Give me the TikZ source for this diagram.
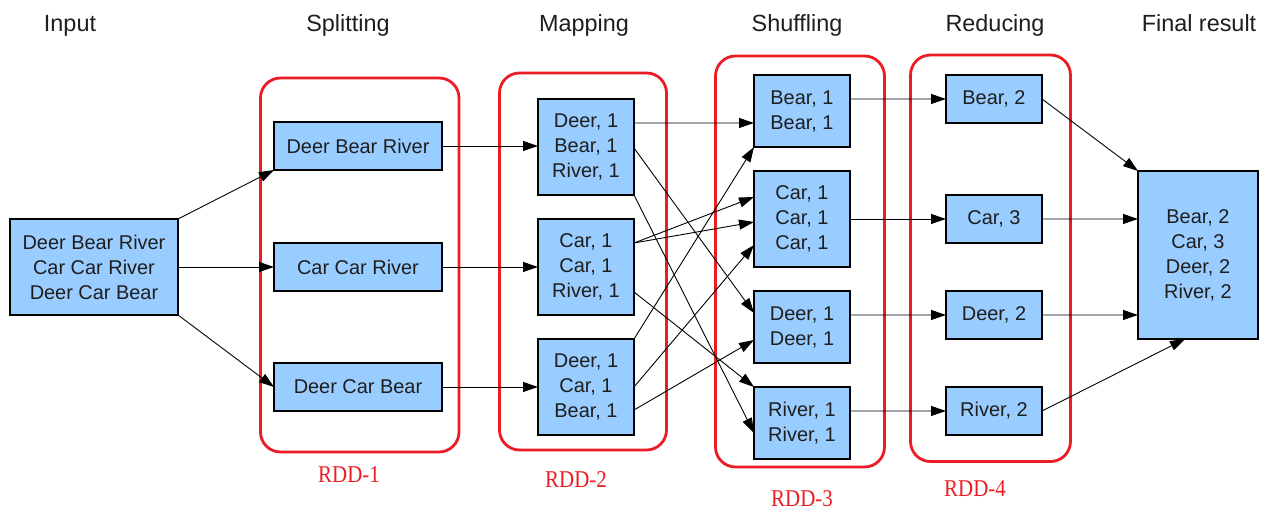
\documentclass[tikz,border=0pt]{standalone}
\usepackage{fontspec}
\setmainfont{Liberation Sans}
\newfontfamily\rddfont{Liberation Serif}
\usetikzlibrary{arrows.meta,calc}
\definecolor{boxblue}{HTML}{99CCFF}
\definecolor{rddred}{HTML}{EC1C24}
\definecolor{txt}{HTML}{1E1E1E}
\tikzset{
  box/.style={draw=black, line width=1.2bp, fill=boxblue, inner sep=0pt, outer sep=0pt,
    align=center, text=txt, font=\fontsize{20}{25}\selectfont},
  hdr/.style={anchor=base, text=txt, font=\fontsize{23.5}{28}\selectfont, inner sep=0pt},
  rdd/.style={draw=rddred, line width=2.8bp, rounded corners=20bp},
  rddlbl/.style={text=rddred, inner sep=0pt, font=\rddfont\fontsize{21}{24}\selectfont},
  conn/.style={draw=black, line width=0.9bp, -{Triangle[length=15bp,width=10bp]}},
}
\begin{document}
\begin{tikzpicture}[x=1bp,y=-1bp]
\useasboundingbox (0,0) rectangle (1285,513);
% headers
\node[hdr] (hIn) at (70,32) {Input};
\node[hdr] (hSp) at (348,32) {Splitting};
\node[hdr] (hMa) at (584,32) {Mapping};
\node[hdr] (hSh) at (797,32) {Shuffling};
\node[hdr] (hRe) at (995,32) {Reducing};
\node[hdr] (hFi) at (1199,32) {Final result};
% RDD frames
\draw[rdd] (260.5,78) rectangle (459,452);
\draw[rdd] (499.5,73) rectangle (666.5,450);
\draw[rdd] (715.5,56) rectangle (884.5,467);
\draw[rdd] (910.5,55) rectangle (1070.5,461.5);
\node[rddlbl] (r1) at (349,475) {\scalebox{1}[1.15]{RDD-1}};
\node[rddlbl] (r2) at (576,480) {\scalebox{1}[1.15]{RDD-2}};
\node[rddlbl] (r3) at (802,499) {\scalebox{1}[1.15]{RDD-3}};
\node[rddlbl] (r4) at (975,489) {\scalebox{1}[1.15]{RDD-4}};
% input
\node[box, minimum width=168bp, minimum height=96bp] (in) at (94,267) {Deer Bear River\\Car Car River\\Deer Car Bear};
% splitting
\node[box, minimum width=168bp, minimum height=48bp] (sp1) at (358,146) {Deer Bear River};
\node[box, minimum width=168bp, minimum height=48bp] (sp2) at (358,267) {Car Car River};
\node[box, minimum width=168bp, minimum height=48bp] (sp3) at (358,387) {Deer Car Bear};
% mapping
\node[box, minimum width=96bp, minimum height=96bp] (ma1) at (586,147) {Deer, 1\\Bear, 1\\River, 1};
\node[box, minimum width=96bp, minimum height=96bp] (ma2) at (586,267) {Car, 1\\Car, 1\\River, 1};
\node[box, minimum width=96bp, minimum height=96bp] (ma3) at (586,387) {Deer, 1\\Car, 1\\Bear, 1};
% shuffling
\node[box, minimum width=96bp, minimum height=72bp] (sh1) at (802,111) {Bear, 1\\Bear, 1};
\node[box, minimum width=96bp, minimum height=96bp] (sh2) at (802,219) {Car, 1\\Car, 1\\Car, 1};
\node[box, minimum width=96bp, minimum height=72bp] (sh3) at (802,327) {Deer, 1\\Deer, 1};
\node[box, minimum width=96bp, minimum height=72bp] (sh4) at (802,423) {River, 1\\River, 1};
% reducing
\node[box, minimum width=96bp, minimum height=48bp] (re1) at (994,99) {Bear, 2};
\node[box, minimum width=96bp, minimum height=48bp] (re2) at (994,219) {Car, 3};
\node[box, minimum width=96bp, minimum height=48bp] (re3) at (994,315) {Deer, 2};
\node[box, minimum width=96bp, minimum height=48bp] (re4) at (994,411) {River, 2};
% final
\node[box, minimum width=120bp, minimum height=168bp] (fin) at (1198,255) {Bear, 2\\Car, 3\\Deer, 2\\River, 2};
% input -> splitting
\draw[conn] (in.north east) -- (sp1.south west);
\draw[conn] (in.east) -- (sp2.west);
\draw[conn] (in.south east) -- (sp3.west);
% splitting -> mapping
\draw[conn] (sp1.east) -- (sp1.east -| ma1.west);
\draw[conn] (sp2.east) -- (ma2.west);
\draw[conn] (sp3.east) -- (ma3.west);
% mapping -> shuffling
\draw[conn] ($(ma1.north east)+(0,24)$) -- ($(sh1.north west)+(0,48)$);
\draw[conn] ($(ma1.north east)+(0,49)$) -- ($(sh3.north west)+(0,22)$);
\draw[conn] (ma1.south east) -- ($(sh4.north west)+(0,46)$);
\draw[conn] ($(ma2.north east)+(0,24)$) -- ($(sh2.north west)+(0,26)$);
\draw[conn] ($(ma2.north east)+(0,24)$) -- ($(sh2.north west)+(0,51)$);
\draw[conn] ($(ma2.north east)+(0,73)$) -- (sh4.north west);
\draw[conn] (ma3.north east) -- (sh1.south west);
\draw[conn] (ma3.east) -- ($(sh2.north west)+(0,74)$);
\draw[conn] ($(ma3.north east)+(0,71)$) -- ($(sh3.north west)+(0,49)$);
% shuffling -> reducing
\draw[conn] ($(sh1.north east)+(0,24)$) -- (re1.west);
\draw[conn] (sh2.east) -- (re2.west);
\draw[conn] ($(sh3.north east)+(0,24)$) -- (re3.west);
\draw[conn] ($(sh4.north east)+(0,24)$) -- (re4.west);
% reducing -> final
\draw[conn] (re1.east) -- (fin.north west);
\draw[conn] (re2.east) -- ($(fin.north west)+(0,48)$);
\draw[conn] (re3.east) -- ($(fin.north west)+(0,144)$);
\draw[conn] (re4.east) -- ($(fin.south west)+(47,0)$);
\end{tikzpicture}
\end{document}
